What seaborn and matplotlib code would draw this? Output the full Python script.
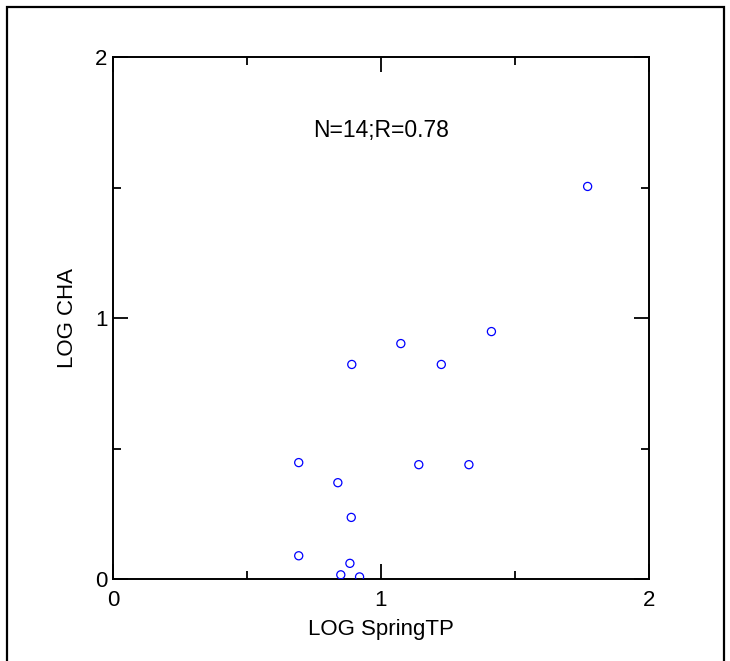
import matplotlib
matplotlib.use('Agg')
import matplotlib.pyplot as plt
import seaborn as sns
import pandas as pd
from matplotlib.patches import Rectangle
from matplotlib.ticker import MultipleLocator

# Values
log_spring_tp = [1.771, 1.412, 1.074, 0.891, 1.225, 0.693, 1.141,
                 1.328, 0.839, 0.889, 0.693, 0.884, 0.850, 0.920]
log_cha = [1.504, 0.948, 0.902, 0.822, 0.822, 0.446, 0.438,
           0.438, 0.369, 0.236, 0.089, 0.060, 0.016, 0.008]
annotation = 'N=14;R=0.78'

df = pd.DataFrame({'LOG SpringTP': log_spring_tp, 'LOG CHA': log_cha})

sns.set_style('white')
plt.rcParams['font.family'] = ['Liberation Sans', 'DejaVu Sans']
plt.rcParams['text.color'] = 'black'
plt.rcParams['axes.labelcolor'] = 'black'

fig = plt.figure(figsize=(7.3, 6.61), dpi=100)
ax = fig.add_axes([113 / 730, 1 - 579 / 661, 536 / 730, 522 / 661])

sns.scatterplot(
    data=df,
    x='LOG SpringTP',
    y='LOG CHA',
    marker='o',
    s=34,
    facecolor='none',
    edgecolor='#0000ff',
    linewidth=0.9,
    ax=ax,
    zorder=3
)

ax.set_xlim(0, 2)
ax.set_ylim(0, 2)
ax.xaxis.set_major_locator(MultipleLocator(1))
ax.yaxis.set_major_locator(MultipleLocator(1))
ax.xaxis.set_minor_locator(MultipleLocator(0.5))
ax.yaxis.set_minor_locator(MultipleLocator(0.5))
ax.tick_params(which='both', direction='in', top=True, right=True,
               bottom=True, left=True,
               color='black', width=1.3, labelsize=16, labelcolor='black')
ax.tick_params(which='major', length=11)
ax.tick_params(which='minor', length=5.5)
ax.tick_params(axis='x', which='major', pad=8)
ax.tick_params(axis='y', which='major', pad=4)

for sp in ax.spines.values():
    sp.set_color('black')
    sp.set_linewidth(1.4)

ax.set_xlabel('LOG SpringTP', fontsize=16, labelpad=6)
ax.set_ylabel('LOG CHA', fontsize=16, labelpad=12)
ax.text(1.0, 1.72, annotation, ha='center', va='center', fontsize=16.5,
        color='black')

# outer frame around the figure
fig.patches.append(Rectangle((7 / 730, -0.05), 717 / 730, 1.05 - 7 / 661,
                             transform=fig.transFigure, fill=False,
                             edgecolor='black', linewidth=1.6))

fig.savefig('out.png', dpi=100)
